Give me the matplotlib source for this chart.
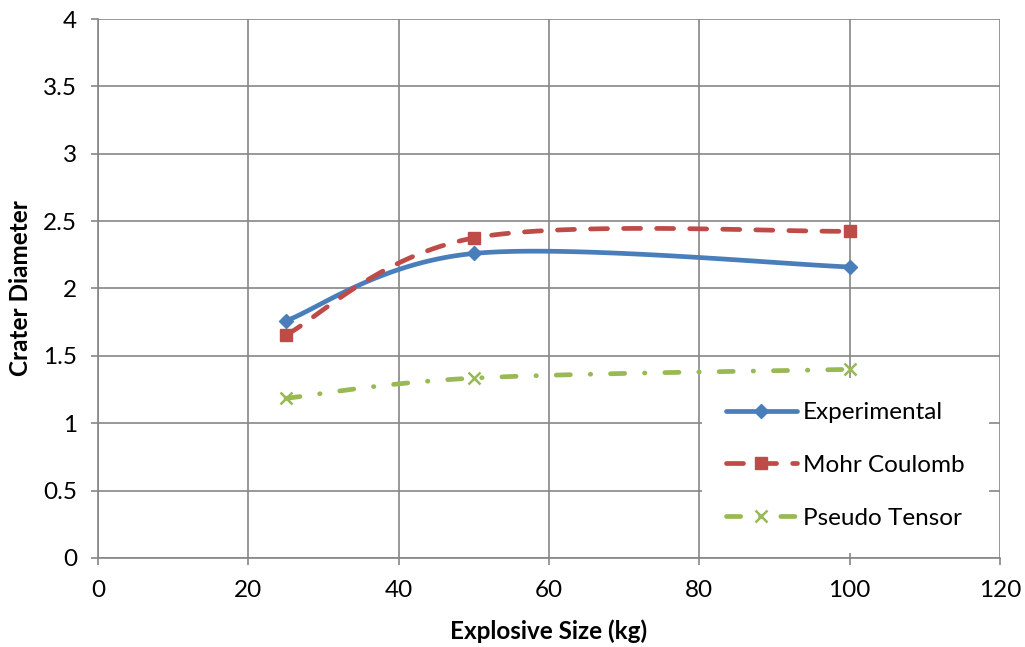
import numpy as np
import matplotlib
matplotlib.use("Agg")
import matplotlib.pyplot as plt

plt.rcParams['font.family'] = ['Lato', 'DejaVu Sans']

explosive_size = [25, 50, 100]
experimental = [1.76, 2.26, 2.16]
mohr_coulomb = [1.655, 2.375, 2.425]
pseudo_tensor = [1.185, 1.335, 1.40]


def excel_smooth(x, y, n=60):
    # bezier spline through the points, like excel's "smoothed line"
    x = np.asarray(x, float)
    y = np.asarray(y, float)
    pts = np.column_stack([x, y])
    out = [pts[:1]]
    for i in range(len(pts) - 1):
        p0 = pts[max(i - 1, 0)]
        p1 = pts[i]
        p2 = pts[i + 1]
        p3 = pts[min(i + 2, len(pts) - 1)]
        c1 = p1 + (p2 - p0) / 6
        c2 = p2 - (p3 - p1) / 6
        t = np.linspace(0, 1, n)[1:, None]
        seg = ((1 - t) ** 3) * p1 + 3 * ((1 - t) ** 2) * t * c1 + 3 * (1 - t) * t ** 2 * c2 + t ** 3 * p2
        out.append(seg)
    out = np.vstack(out)
    return out[:, 0], out[:, 1]


fig = plt.figure(figsize=(10.25, 6.47), dpi=100)
ax = fig.add_axes([0.0956, 0.1376, 0.88, 0.833])

series = [
    ("Experimental", experimental, "#4A7EBB", "-", "D", 7),
    ("Mohr Coulomb", mohr_coulomb, "#BE4B48", (0, (3.6, 3.4)), "s", 8.5),
    ("Pseudo Tensor", pseudo_tensor, "#98B954", (0, (3.0, 4.2, 0.1, 4.2)), "x", 8),
]

for name, vals, col, ls, mk, ms in series:
    sx, sy = excel_smooth(explosive_size, vals)
    ax.plot(sx, sy, color=col, lw=3.4, ls=ls, dash_capstyle='round',
            solid_capstyle='round', zorder=3)
    ax.plot(explosive_size, vals, ls='none', marker=mk, color=col, ms=ms,
            mew=1.8 if mk == 'x' else 1, zorder=4)
    # legend proxy
    ax.plot([], [], color=col, lw=3.4, ls=ls, marker=mk, ms=ms,
            dash_capstyle='round', solid_capstyle='round',
            mew=1.8 if mk == 'x' else 1, label=name)

ax.set_xlim(0, 120)
ax.set_ylim(0, 4)
ax.set_xticks(np.arange(0, 121, 20))
ax.set_yticks(np.arange(0, 4.01, 0.5))
ax.set_yticklabels(["0", "0.5", "1", "1.5", "2", "2.5", "3", "3.5", "4"])
ax.grid(True, color="#868686", lw=1.2, zorder=1)
ax.set_axisbelow(True)
for s in ["top", "right"]:
    ax.spines[s].set_visible(False)
for s in ["left", "bottom"]:
    ax.spines[s].set_color("#868686")
    ax.spines[s].set_linewidth(1.2)
ax.tick_params(colors="#868686", labelcolor="black", length=5, width=1.2,
               labelsize=17.5)
ax.tick_params(axis='x', pad=11)
ax.tick_params(axis='y', pad=10)

ax.set_xlabel("Explosive Size (kg)", fontsize=17.5, fontweight='bold', labelpad=13)
ax.set_ylabel("Crater Diameter", fontsize=17.5, fontweight='bold', labelpad=8)

leg = ax.legend(loc='upper left', bbox_to_anchor=(0.6695, 0.334),
                bbox_transform=ax.transAxes, frameon=True, fontsize=17.5,
                handlelength=2.9, labelspacing=1.3, borderpad=1.0,
                handletextpad=0.25, borderaxespad=0)
leg.get_frame().set_facecolor("white")
leg.get_frame().set_edgecolor("none")
leg.get_frame().set_alpha(1)
leg.get_frame().set_boxstyle("square", pad=0)

fig.savefig("out.png", dpi=100)
